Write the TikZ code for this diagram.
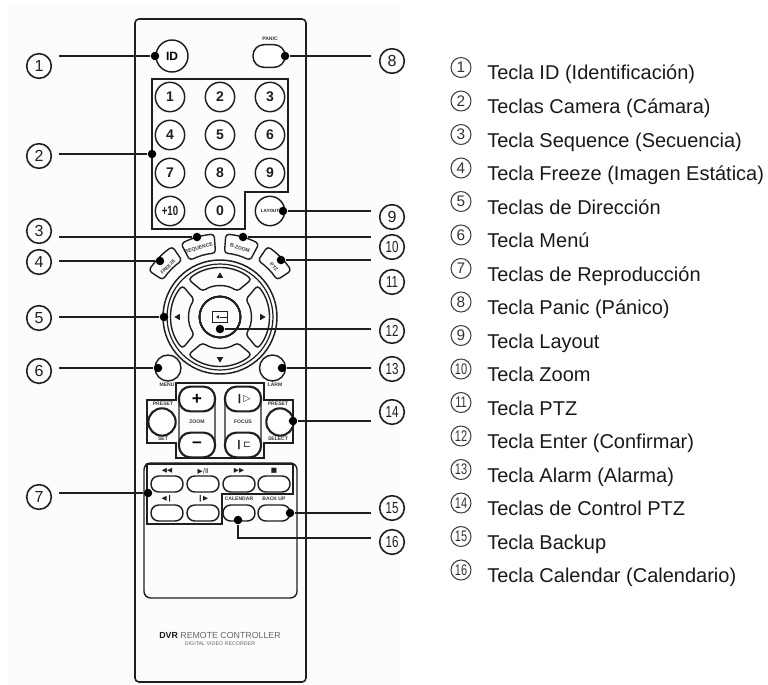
\documentclass[tikz,border=0pt]{standalone}
\usepackage{fontspec}
\setmainfont{Liberation Sans}
\newfontfamily\symfont{DejaVu Sans}
\usetikzlibrary{shapes.geometric,positioning}
\definecolor{inkline}{gray}{0.12}
\definecolor{inklabel}{gray}{0.22}
\definecolor{paper}{gray}{0.988}
\tikzset{
    remote/.style={draw=inkline, line width=1.2pt, rounded corners=3pt},
    outline/.style={draw=inkline, line width=1.4pt},
    keyline/.style={draw=inkline, line width=1.05pt, rounded corners=2.5pt},
    roundkey/.style={draw=inkline, line width=1.1pt, circle, inner sep=0pt, fill=white},
    numkey/.style={roundkey, minimum size=22pt, font=\bfseries\fontsize{10.5}{11}\selectfont, text=inkline},
    pillkey/.style={draw=inkline, line width=1.1pt, rectangle, rounded corners=5.8pt, minimum width=24pt, minimum height=12pt, inner sep=0pt, fill=white},
    heavypill/.style={draw=inkline, line width=1.6pt, rectangle, rounded corners=8.5pt, minimum width=27pt, minimum height=18.5pt, inner sep=0pt, fill=white},
    tag/.style={font=\bfseries\fontsize{3.8}{4}\selectfont, text=inklabel, inner sep=0pt},
    callout/.style={draw=inkline, line width=1.2pt, circle, minimum size=18.5pt, inner sep=0pt, font=\fontsize{12}{12}\selectfont, text=inkline},
    legendnum/.style={draw=black!75, line width=0.8pt, circle, minimum size=15pt, inner sep=0pt, font=\fontsize{11.5}{12}\selectfont, text=black!80},
    legendtext/.style={anchor=base west, inner sep=0pt, font=\fontsize{15}{16}\selectfont, text=black!90},
    tip/.style={circle, fill=black, minimum size=6.4pt, inner sep=0pt},
    leader/.style={draw=inkline, line width=1.2pt},
    tri/.style={regular polygon, regular polygon sides=3, fill=inkline, minimum size=5.5pt, inner sep=0pt},
    symtag/.style={font=\symfont\fontsize{5}{5}\selectfont, text=inkline, inner sep=0pt},
}
\newcommand{\arckey}[5]{%
    \draw[keyline] ({#1-#2}:#4) arc[start angle={#1-#2}, end angle={#1+#2}, radius=#4]
        -- ({#1+#3}:#5) arc[start angle={#1+#3}, end angle={#1-#3}, radius=#5] -- cycle;}
\newcommand{\narrow}[1]{\scalebox{.72}[1]{#1}}
\begin{document}
\begin{tikzpicture}[x=0.75pt,y=-0.75pt]
    \useasboundingbox (0,0) rectangle (768,685);
    \fill[paper] (7,4) rectangle (400,685);
    \draw[remote] (135,19) rectangle (306,682);
    % top keys
    \node[roundkey, minimum size=24pt, font=\bfseries\fontsize{9}{9}\selectfont] (id) at (172,56) {ID};
    \node[pillkey, minimum width=24pt, minimum height=17pt, rounded corners=8.2pt] (panic) at (269,56) {};
    \node[tag] (paniclab) at (270,39) {PANIC};
    \draw[outline] (152,79) -- (288,79) -- (288,192) -- (245,192) -- (245,229) -- (152,229) -- cycle;
    \foreach \lab/\kx/\ky in {1/170/97, 2/220/97, 3/270/97, 4/170/135, 5/220/135, 6/270/135, 7/170/173, 8/220/173, 9/270/173, 0/220/211}
        \node[numkey] (key\lab) at (\kx,\ky) {\lab};
    \node[numkey, font=\bfseries\fontsize{10}{10}\selectfont] (keyten) at (170,211) {\narrow{+10}};
    \node[numkey, font=\bfseries\fontsize{3.4}{4}\selectfont] (layout) at (270,211) {LAYOUT};
    % arc keys over the ring
    \begin{scope}[shift={(220,317)}]
        \arckey{254}{12}{12}{83}{64}
        \arckey{286}{12}{12}{83}{64}
        \arckey{224.5}{11.5}{11.5}{85}{68}
        \arckey{315.5}{11.5}{11.5}{85}{68}
        \draw[inkline, line width=1.1pt] (0,0) circle[radius=57];
        \draw[inkline, line width=0.9pt] (0,0) circle[radius=53];
        \foreach \ang in {0,90,180,270}
            \arckey{\ang}{40}{34}{49}{31}
        \draw[inkline, line width=1.2pt] (0,0) circle[radius=20.5];
    \end{scope}
    \node[tag, rotate=16] (seqlab) at (199,248) {SEQUENCE};
    \node[tag, rotate=-16] (bzoomlab) at (240,248) {B.ZOOM};
    \node[tag, rotate=46, font=\bfseries\fontsize{3.6}{4}\selectfont] (freezelab) at (168,267) {FREEZE};
    \node[tag, rotate=-46] (ptzlab) at (274,267) {PTZ};
    \node[tri] (up) at (220,276) {};
    \node[tri, rotate=180] (down) at (220,359) {};
    \node[tri, rotate=90] (left) at (178,317) {};
    \node[tri, rotate=-90] (right) at (262,317) {};
    \node[draw=inkline, line width=0.7pt, minimum width=11.5pt, minimum height=8.5pt, inner sep=0pt] (enter) at (220,317) {};
    \draw[inkline, line width=0.6pt] (enter.center) -- (enter.east);
    \node[tri, minimum size=3pt, rotate=90] (enterarrow) at (218,317) {};
    \node[roundkey, minimum size=19.5pt] (menu) at (168,368) {};
    \node[roundkey, minimum size=19.5pt] (alarm) at (272.5,368) {};
    \node[tag] (menulab) at (167,385) {MENU};
    \node[tag] (alarmlab) at (275,385) {LARM};
    % zoom and focus block
    \draw[outline] (176,383) -- (264,383) -- (264,400) -- (293,400) -- (293,443) -- (264,443) -- (264,458) -- (176,458) -- (176,443) -- (147,443) -- (147,400) -- (176,400) -- cycle;
    \node[draw=inkline, line width=1pt, rounded corners=8pt, minimum width=27pt, minimum height=52pt] (zoomcol) at (197,422) {};
    \node[draw=inkline, line width=1pt, rounded corners=8pt, minimum width=27pt, minimum height=52pt] (focuscol) at (243,422) {};
    \node[heavypill, font=\bfseries\fontsize{13}{13}\selectfont] (plus) at (197,399) {+};
    \node[heavypill, font=\bfseries\fontsize{13}{13}\selectfont] (minus) at (197,445) {--};
    \node[heavypill, symtag, font=\symfont\fontsize{7}{7}\selectfont] (far) at (243,399) {❙▷};
    \node[heavypill, symtag, font=\symfont\fontsize{7}{7}\selectfont] (near) at (243,445) {❙⊏};
    \node[tag] (zoomlab) at (197,422) {ZOOM};
    \node[tag] (focuslab) at (243,422) {FOCUS};
    \node[roundkey, line width=1.6pt, minimum size=20.5pt] (set) at (162,422) {};
    \node[roundkey, line width=1.6pt, minimum size=20.5pt] (select) at (280,422) {};
    \node[tag] (presetl) at (163,404) {PRESET};
    \node[tag] (presetr) at (278,404) {PRESET};
    \node[tag] (setlab) at (163,439) {SET};
    \node[tag] (selectlab) at (278,439) {SELECT};
    % lower panel
    \draw[keyline, rounded corners=5pt] (144,463) rectangle (297,598);
    \draw[outline] (147,464) -- (293,464) -- (293,494) -- (222,494) -- (222,524) -- (147,524) -- cycle;
    \foreach \kname/\kx/\ky in {rew/167/484, play/203/484, ffw/239/484, stop/274/484, stepb/167/513, stepf/203/513, cal/239/513, back/274/513}
        \node[pillkey] (\kname) at (\kx,\ky) {};
    \node[symtag] (rewlab) at (167,471) {◀◀};
    \node[symtag] (playlab) at (203,471) {▶/Ⅱ};
    \node[symtag] (ffwlab) at (239,471) {▶▶};
    \node[symtag] (stoplab) at (274,471) {■};
    \node[symtag] (stepblab) at (167,499) {◀❙};
    \node[symtag] (stepflab) at (203,499) {❙▶};
    \node[tag] (callab) at (239,499) {CALENDAR};
    \node[tag] (backlab) at (274,499) {BACK UP};
    \node[inner sep=0pt, font=\fontsize{6.6}{7}\selectfont, text=black!60] (brand) at (220,635) {\textbf{\textcolor{black!90}{DVR}} REMOTE CONTROLLER};
    \node[inner sep=0pt, font=\fontsize{4}{4}\selectfont, text=black!60] (brandsub) at (220,644) {DIGITAL VIDEO RECORDER};
    % left callouts
    \foreach \n/\cy/\dx/\ly in {1/66/155/56, 2/156/152/154, 3/231/197/237, 4/262/160/261, 5/318/164/317, 6/371/158/368, 7/497/148/493} {
        \node[callout] (c\n) at (39,\cy) {\n};
        \coordinate (e\n) at (59,\ly);
        \node[tip] (d\n) at (\dx,\ly) {};
        \draw[leader] (e\n) -- (d\n);
    }
    % right callouts
    \foreach \n/\cy/\dx/\ly in {8/61/285/56, 9/217/283/211, 10/247/243/237, 11/282/281/260, 12/331/220/329, 13/369/282/368, 14/412/293/421, 15/508/290/513} {
        \node[callout] (c\n) at (392,\cy) {\ifnum\n>9 \narrow{\n}\else\n\fi};
        \coordinate (e\n) at (371,\ly);
        \node[tip] (d\n) at (\dx,\ly) {};
        \draw[leader] (e\n) -- (d\n);
    }
    \node[callout] (c16) at (392,542) {\narrow{16}};
    \coordinate (e16) at (371,538);
    \node[tip] (d16) at (238,520) {};
    \draw[leader] (e16) -| (d16);
    % legend
    \foreach \n/\txt in {1/{Tecla ID (Identificación)}, 2/{Teclas Camera (Cámara)}, 3/{Tecla Sequence (Secuencia)}, 4/{Tecla Freeze (Imagen Estática)}, 5/{Teclas de Dirección}, 6/{Tecla Menú}, 7/{Teclas de Reproducción}, 8/{Tecla Panic (Pánico)}, 9/{Tecla Layout}, 10/{Tecla Zoom}, 11/{Tecla PTZ}, 12/{Tecla Enter (Confirmar)}, 13/{Tecla Alarm (Alarma)}, 14/{Teclas de Control PTZ}, 15/{Tecla Backup}, 16/{Tecla Calendar (Calendario)}} {
        \node[legendnum] (l\n) at (461,{67.5+33.5*(\n-1)}) {\ifnum\n>9 \narrow{\n}\else\n\fi};
        \node[legendtext] (t\n) at (487,{80+33.5*(\n-1)}) {\txt};
    }
\end{tikzpicture}
\end{document}
